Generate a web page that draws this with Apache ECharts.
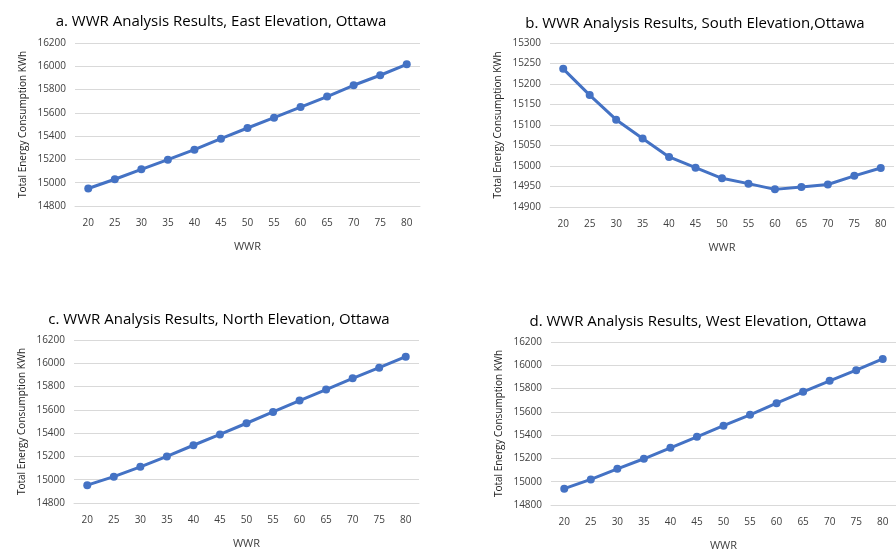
<!DOCTYPE html>
<html>
<head>
<meta charset="utf-8">
<script src="https://cdn.jsdelivr.net/npm/echarts@6/dist/echarts.min.js"></script>
<style>
  html, body { margin: 0; padding: 0; background: #fff; }
  #chart { width: 896px; height: 553px; }
</style>
</head>
<body>
<div id="chart"></div>
<script>
// WWR categories (x axis)
const wwr = ['20', '25', '30', '35', '40', '45', '50', '55', '60', '65', '70', '75', '80']

// total energy consumption, kWh
const eastData = [14950, 15030, 15115, 15198, 15284, 15378, 15470, 15559, 15650, 15740, 15837, 15923, 16017]
const southData = [15237, 15173, 15113, 15067, 15022, 14996, 14970, 14957, 14943, 14949, 14955, 14976, 14995]
const northData = [14953, 15026, 15111, 15200, 15296, 15389, 15485, 15582, 15680, 15774, 15871, 15962, 16057]
const westData = [14940, 15020, 15111, 15197, 15291, 15386, 15481, 15575, 15675, 15772, 15867, 15958, 16055]

const titles = [
  'a. WWR Analysis Results, East Elevation, Ottawa',
  'b. WWR Analysis Results, South Elevation,Ottawa',
  'c. WWR Analysis Results, North Elevation, Ottawa',
  'd. WWR Analysis Results, West Elevation, Ottawa'
]

const font = 'Open Sans'
const lineColor = '#4472C4'
const gridColor = '#d9d9d9'
const textColor = '#404040'

// panel boxes
const grids = [
  { left: 75, top: 43, width: 345, height: 163 },
  { left: 550, top: 43, width: 344, height: 164 },
  { left: 74, top: 340, width: 345, height: 163 },
  { left: 551, top: 342, width: 345, height: 163 }
]
const titlePos = [
  { left: 216, top: 9 },
  { left: 690, top: 11 },
  { left: 214, top: 307 },
  { left: 693, top: 309 }
]
const yRanges = [
  { min: 14800, max: 16200, interval: 200 },
  { min: 14900, max: 15300, interval: 50 },
  { min: 14800, max: 16200, interval: 200 },
  { min: 14800, max: 16200, interval: 200 }
]
const seriesData = [eastData, southData, northData, westData]

let chartDom = document.getElementById('chart')
let myChart = echarts.init(chartDom)

let option = {
  backgroundColor: '#fff',
  animation: false,
  title: titles.map((t, i) => ({
    text: t,
    left: titlePos[i].left,
    top: titlePos[i].top,
    textAlign: 'center',
    textStyle: { fontFamily: font, fontSize: 15, fontWeight: 'normal', color: '#000' }
  })),
  grid: grids,
  xAxis: grids.map((g, i) => ({
    type: 'category',
    gridIndex: i,
    data: wwr,
    boundaryGap: true,
    name: 'WWR',
    nameLocation: 'middle',
    nameGap: 35,
    nameTextStyle: { fontFamily: font, fontSize: 11, color: textColor },
    axisTick: { show: false },
    axisLine: { show: true, lineStyle: { color: gridColor } },
    axisLabel: { fontFamily: font, fontSize: 10, color: textColor, margin: 12 }
  })),
  yAxis: grids.map((g, i) => ({
    type: 'value',
    gridIndex: i,
    min: yRanges[i].min,
    max: yRanges[i].max,
    interval: yRanges[i].interval,
    name: 'Total Energy Consumption KWh',
    nameLocation: 'middle',
    nameGap: 47,
    nameTextStyle: { fontFamily: font, fontSize: 10, color: '#222' },
    axisLine: { show: false },
    axisTick: { show: false },
    splitLine: { lineStyle: { color: gridColor } },
    axisLabel: {
      fontFamily: font, fontSize: 10, color: textColor, margin: 9,
      formatter: (v) => String(v)
    }
  })),
  series: seriesData.map((d, i) => ({
    type: 'line',
    xAxisIndex: i,
    yAxisIndex: i,
    data: d,
    symbol: 'circle',
    symbolSize: 8,
    lineStyle: { color: lineColor, width: 3 },
    itemStyle: { color: lineColor }
  }))
}

option && myChart.setOption(option)
</script>
</body>
</html>
